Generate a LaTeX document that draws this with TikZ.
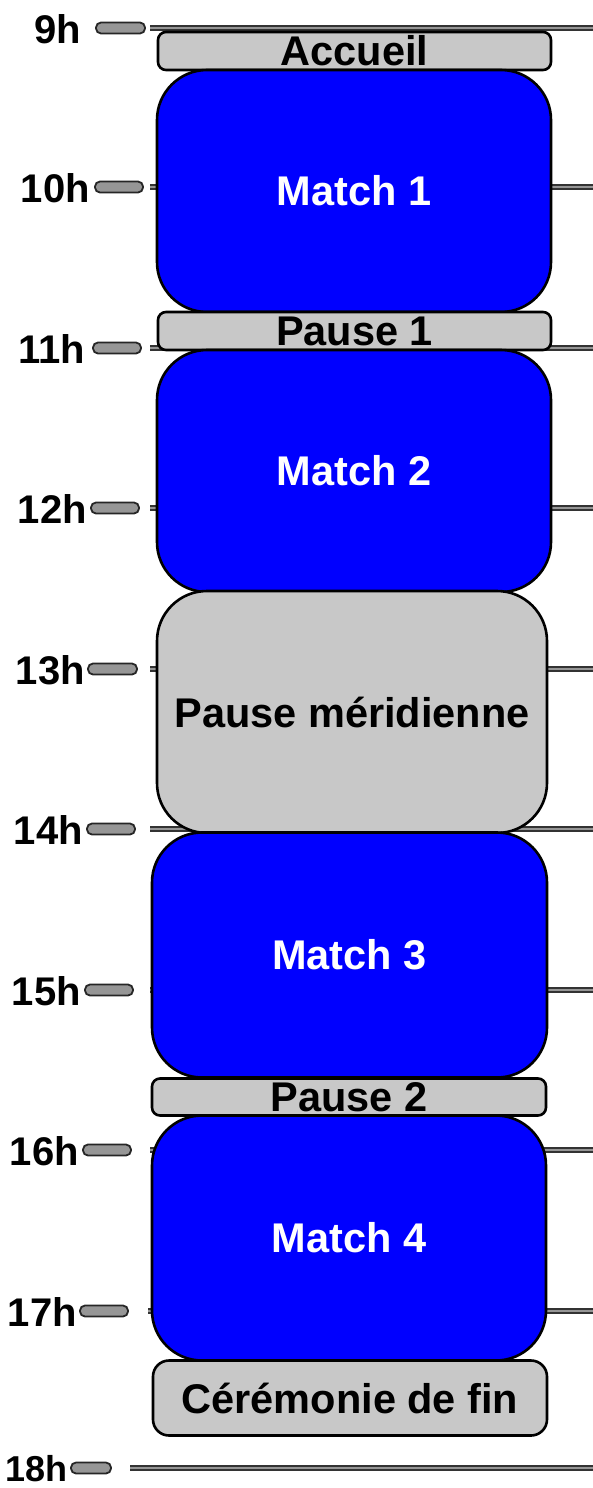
\documentclass[tikz,border=0pt]{standalone}
\usepackage{fontspec}
\setmainfont{Liberation Sans}
\definecolor{matchblue}{HTML}{0000FF}
\definecolor{pausegray}{HTML}{C8C8C8}
\definecolor{tickgray}{HTML}{969696}
\begin{document}
\begin{tikzpicture}[x=1pt,y=-1pt,
    txt/.style={font=\bfseries\fontsize{41.5}{48}\selectfont},
    slot/.style={draw=black,line width=2.6pt,inner sep=0pt,txt},
    match/.style={slot,fill=matchblue,text=white,rounded corners=50pt},
    pause/.style={slot,fill=pausegray,text=black,rounded corners=8pt},
    hourline/.style={draw=black!80,line width=1.3pt,double=tickgray,double distance=2.6pt},
    pill/.style={draw=black!85,fill=tickgray,line width=1.8pt,rounded corners=5pt,inner sep=0pt,minimum height=11pt},
    hour/.style={anchor=east,inner sep=0pt}]
  \useasboundingbox (0,0) rectangle (593,1488);
  \foreach \h/\y/\tx/\pl/\pr/\ls/\fs in {9/28/81/96/145/150/40,10/187/90/95/143/150/40,11/348/85/93/141/150/40,
      12/508/87/91/139/150/40,13/669/85/88/137/150/40,14/829/83/87/135/150/40,15/990/81/85/133/150/40,
      16/1150/79/83/131/150/40,17/1311/77/80/128/148/40,18/1468/68/71/111/130/36}{
    \coordinate (l\h) at (\ls,\y);
    \coordinate (r\h) at (593,\y);
    \draw[hourline] (l\h) -- (r\h);
    \node[pill,minimum width={\pr-\pl}] (p\h) at ({(\pl+\pr)/2},\y) {};
    \node[hour,font=\bfseries\fontsize{\fs}{48}\selectfont] (t\h) at (\tx,\y+1) {\h h};
  }
  \node[pause,minimum width=393pt,minimum height=38pt] (accueil) at (354.5,51) {Accueil};
  \node[match,minimum width=394pt,minimum height=242pt] (match1) at (354,191) {Match 1};
  \node[pause,minimum width=393pt,minimum height=38pt] (pause1) at (354.5,331) {Pause 1};
  \node[match,minimum width=394pt,minimum height=242pt] (match2) at (354,471) {Match 2};
  \node[slot,fill=pausegray,rounded corners=50pt,minimum width=390pt,minimum height=242pt] (midi) at (352,712) {Pause méridienne};
  \node[match,minimum width=395pt,minimum height=245pt] (match3) at (349.5,955) {Match 3};
  \node[pause,minimum width=394pt,minimum height=37pt] (pause2) at (349,1097) {Pause 2};
  \node[match,minimum width=394pt,minimum height=245pt] (match4) at (349,1238) {Match 4};
  \node[pause,rounded corners=16pt,minimum width=394pt,minimum height=75pt] (fin) at (350,1398) {Cérémonie de fin};
\end{tikzpicture}
\end{document}
